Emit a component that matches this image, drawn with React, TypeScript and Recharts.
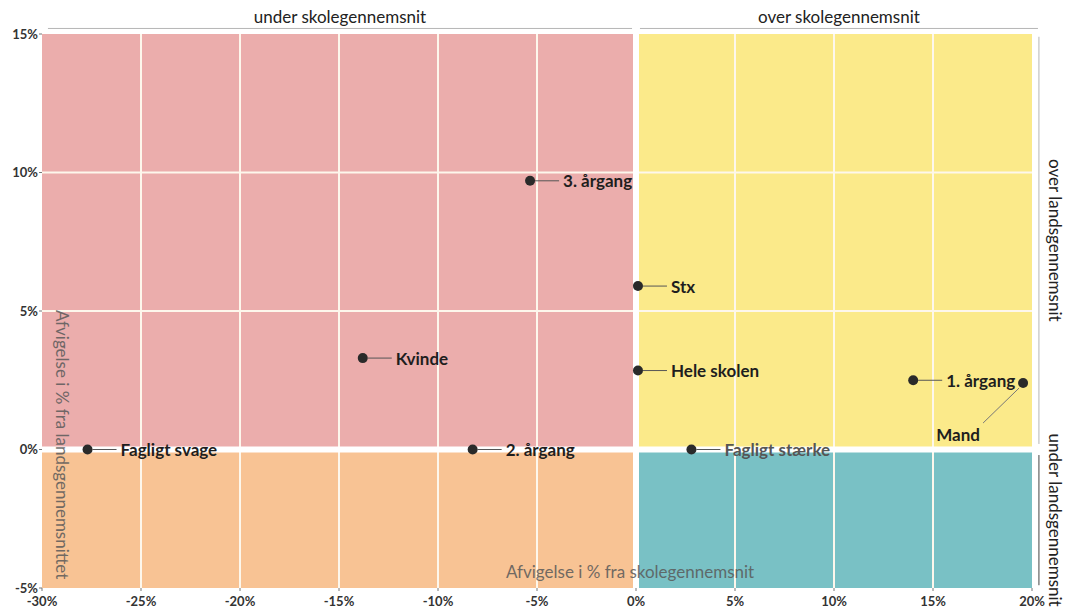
import React from 'react';
import { ScatterChart, Scatter, XAxis, YAxis, ReferenceArea, ReferenceLine } from 'recharts';

const categories = ['3. årgang', 'Stx', 'Kvinde', 'Hele skolen', '1. årgang', 'Mand', 'Fagligt svage', '2. årgang', 'Fagligt stærke'];
const schoolDeviation = [-5.35, 0.1, -13.8, 0.1, 14.0, 19.55, -27.7, -8.25, 2.8];
const nationalDeviation = [9.7, 5.9, 3.3, 2.85, 2.5, 2.4, 0, 0, 0];
const xTicks = [-30, -25, -20, -15, -10, -5, 0, 5, 10, 15, 20];
const yTicks = [-5, 0, 5, 10, 15];
const gridX = [-25, -20, -15, -10, -5, 5, 10, 15];
const gridY = [5, 10];
const quadrantNames = ['under/over', 'over/over', 'under/under', 'over/under'];
const quadrantX = [[-30, 0], [0, 20], [-30, 0], [0, 20]];
const quadrantY = [[0, 15], [0, 15], [-5, 0], [-5, 0]];
const quadrantColors = ['#EBADAC', '#FBEA8A', '#F8C394', '#79C1C5'];

const data = categories.map((name, i) => ({ name, x: schoolDeviation[i], y: nationalDeviation[i] }));

const FONT = "Lato, 'Open Sans', sans-serif";

const PointShape = (props: any) => {
  const { cx, cy, payload } = props;
  if (cx == null || cy == null) return null;
  const name = payload.name;
  if (name === 'Mand') {
    return (
      <g>
        <line x1={cx - 4} y1={cy + 5} x2={cx - 40} y2={cy + 40} stroke="#777" strokeWidth={1} />
        <circle cx={cx} cy={cy} r={5} fill="#2a2a2a" />
        <text x={cx - 65} y={cy + 51} textAnchor="middle" dominantBaseline="central" fontFamily={FONT} fontWeight={700} fontSize={17} fill="#1e1e1e">{name}</text>
      </g>
    );
  }
  const grey = name === 'Fagligt stærke';
  return (
    <g>
      <line x1={cx + 5} y1={cy} x2={cx + 29} y2={cy} stroke="#555" strokeWidth={1} />
      <circle cx={cx} cy={cy} r={5} fill="#2a2a2a" />
      <text x={cx + 33} y={cy} textAnchor="start" dominantBaseline="central" fontFamily={FONT} fontWeight={700} fontSize={17} fill={grey ? '#555' : '#1e1e1e'}>{name}</text>
    </g>
  );
};

const BraceLabel = (props: any) => {
  const { viewBox, text, vertical, title } = props;
  if (!viewBox) return null;
  const cx = viewBox.x + viewBox.width / 2;
  const cy = viewBox.y + viewBox.height / 2;
  if (title) {
    return (
      <text x={cx} y={cy} textAnchor="middle" dominantBaseline="central" fontFamily={FONT} fontSize={17}
        fill="#5a5a5a" opacity={0.85} transform={vertical ? `rotate(90 ${cx} ${cy})` : undefined}>{text}</text>
    );
  }
  if (vertical) {
    const tx = cx + 17;
    return (
      <text x={tx} y={cy} textAnchor="middle" dominantBaseline="central" transform={`rotate(90 ${tx} ${cy})`} fontFamily={FONT} fontSize={17} fill="#222">{text}</text>
    );
  }
  return (
    <text x={cx} y={cy - 12} textAnchor="middle" dominantBaseline="central" fontFamily={FONT} fontSize={17} fill="#222">{text}</text>
  );
};

const tickStyle = { fontFamily: FONT, fontSize: 13, fontWeight: 700, fill: '#333' };

export default function App() {
  return (
    <div style={{ position: 'absolute', left: 0, top: 0, width: 1067, height: 612, background: '#fff' }}>
      <ScatterChart width={1067} height={612} margin={{ top: 34, right: 35, bottom: 0, left: 0 }}>
        <XAxis type="number" dataKey="x" domain={[-30, 20]} ticks={xTicks} height={24} axisLine={false}
          tickLine={{ stroke: '#777' }} tickSize={3} tickMargin={6} tick={tickStyle}
          tickFormatter={(v: number) => `${v}%`} allowDataOverflow />
        <YAxis type="number" dataKey="y" domain={[-5, 15]} ticks={yTicks} width={42} axisLine={false}
          tickLine={{ stroke: '#777' }} tickSize={3} tickMargin={1} tick={tickStyle}
          tickFormatter={(v: number) => `${v}%`} allowDataOverflow />
        {quadrantNames.map((q, i) => (
          <ReferenceArea key={q} x1={quadrantX[i][0]} x2={quadrantX[i][1]} y1={quadrantY[i][0]} y2={quadrantY[i][1]}
            fill={quadrantColors[i]} fillOpacity={1} stroke="none" ifOverflow="visible" />
        ))}
        {gridX.map((v) => (
          <ReferenceLine key={'gx' + v} x={v} stroke="#FDF7EC" strokeWidth={2} />
        ))}
        {gridY.map((v) => (
          <ReferenceLine key={'gy' + v} y={v} stroke="#FDF7EC" strokeWidth={2} />
        ))}
        <ReferenceLine x={0} stroke="#ffffff" strokeWidth={6} />
        <ReferenceLine y={0} stroke="#ffffff" strokeWidth={6} />
        <ReferenceLine segment={[{ x: -29.7, y: 15.2 }, { x: -0.2, y: 15.2 }]} stroke="#b5b5b5" strokeWidth={1} ifOverflow="visible"
          label={<BraceLabel text="under skolegennemsnit" />} />
        <ReferenceLine segment={[{ x: 0.2, y: 15.2 }, { x: 20.3, y: 15.2 }]} stroke="#b5b5b5" strokeWidth={1} ifOverflow="visible"
          label={<BraceLabel text="over skolegennemsnit" />} />
        <ReferenceLine segment={[{ x: 20.35, y: 14.9 }, { x: 20.35, y: 0.2 }]} stroke="#b5b5b5" strokeWidth={1} ifOverflow="visible"
          label={<BraceLabel text="over landsgennemsnit" vertical />} />
        <ReferenceLine segment={[{ x: 20.35, y: -0.2 }, { x: 20.35, y: -4.9 }]} stroke="#444" strokeWidth={1} ifOverflow="visible"
          label={<BraceLabel text="under landsgennemsnit" vertical />} />
        <ReferenceLine segment={[{ x: -6.5, y: -4.4 }, { x: 5.9, y: -4.4 }]} stroke="none" ifOverflow="visible"
          label={<BraceLabel text="Afvigelse i % fra skolegennemsnit" title />} />
        <ReferenceLine segment={[{ x: -28.94, y: 5.1 }, { x: -28.94, y: -4.75 }]} stroke="none" ifOverflow="visible"
          label={<BraceLabel text="Afvigelse i % fra landsgennemsnittet" title vertical />} />
        <Scatter data={data} isAnimationActive={false} shape={<PointShape />} />
      </ScatterChart>
    </div>
  );
}
